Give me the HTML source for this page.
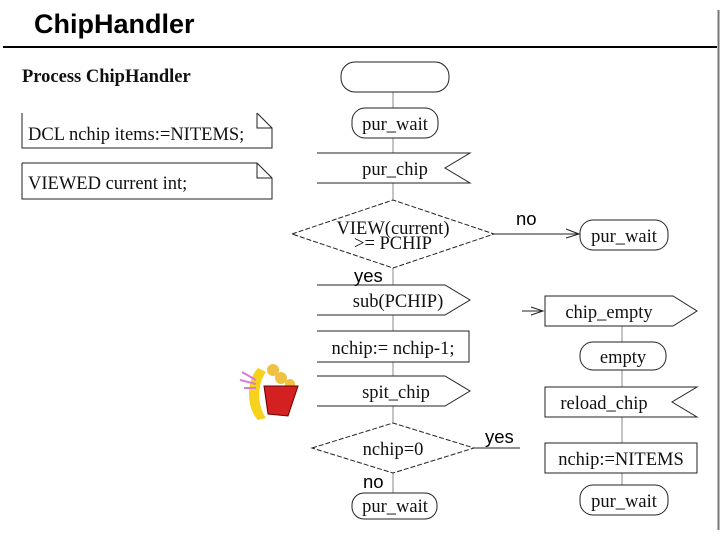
<!DOCTYPE html>
<html><head><meta charset="utf-8"><style>
html,body{margin:0;padding:0;background:#fff;}
svg{display:block;}
.s{font-family:"Liberation Serif",serif;font-size:18.5px;fill:#111;}
.a{font-family:"Liberation Sans",sans-serif;fill:#000;}
</style></head><body>
<svg width="720" height="540" viewBox="0 0 720 540" xmlns="http://www.w3.org/2000/svg">
<g fill="none" stroke="#222" stroke-width="1">
<line x1="3" y1="47" x2="717" y2="47" stroke="#000" stroke-width="2"/>
<line x1="718.5" y1="10" x2="718.5" y2="530" stroke="#777" stroke-width="2"/>
<path d="M22 113 V148 H272 V128 L257 113"/>
<path d="M257 113 V128 H272"/>
<path d="M22 163 V199 H272 V178 L257 163 H22"/>
<path d="M257 163 V178 H272"/>
<line x1="393" y1="92" x2="393" y2="493" stroke="#888"/>
<rect x="341" y="62" width="108" height="30" rx="14" fill="#fff"/>
<rect x="352" y="108" width="86" height="30" rx="13" fill="#fff"/>
<path d="M317 153 H470 L445 168 L470 183 H317" fill="#fff"/>
<polygon points="292,234 393,200 494,234 393,268" fill="#fff" stroke-dasharray="5,2"/>
<line x1="494" y1="234" x2="578" y2="234"/>
<path d="M566 229 L579 234 L566 238"/>
<rect x="580" y="220" width="88" height="30" rx="13" fill="#fff"/>
<path d="M317 285 H445 L470 300 L445 315 H317" fill="#fff"/>
<path d="M317 331 H469 V362 H317" fill="#fff"/>
<path d="M317 376 H445 L470 391 L445 406 H317" fill="#fff"/>
<polygon points="312,448 393,423 474,448 393,473" fill="#fff" stroke-dasharray="5,2"/>
<line x1="474" y1="448" x2="520" y2="448"/>
<rect x="352" y="493" width="85" height="26" rx="12" fill="#fff"/>
<line x1="622" y1="326" x2="622" y2="485" stroke="#888"/>
<line x1="522" y1="311" x2="542" y2="311"/>
<path d="M531 307 L543 311 L531 315"/>
<path d="M545 296 H673 L697 311 L673 326 H545 Z" fill="#fff"/>
<rect x="580" y="342" width="86" height="28" rx="13" fill="#fff"/>
<path d="M697 387 H545 V417 H697 L672 402 Z" fill="#fff"/>
<rect x="545" y="443" width="152" height="30" fill="#fff"/>
<rect x="580" y="485" width="88" height="30" rx="13" fill="#fff"/>
</g>
<g>
<path d="M258 368 C246 380 246 408 258 420 L266 418 C256 404 258 382 266 372 Z" fill="#f6d21c"/>
<line x1="242" y1="372" x2="256" y2="380" stroke="#d97bd9" stroke-width="2"/>
<line x1="240" y1="380" x2="256" y2="384" stroke="#d97bd9" stroke-width="2"/>
<line x1="244" y1="388" x2="256" y2="388" stroke="#d97bd9" stroke-width="2"/>
<circle cx="273" cy="370" r="6" fill="#f0c040"/>
<circle cx="281" cy="378" r="6" fill="#f0c040"/>
<circle cx="290" cy="384" r="5" fill="#f0c040"/>
<path d="M264 386 L298 386 L288 416 L268 414 Z" fill="#d42020" stroke="#600" stroke-width="1"/>
</g>
<text x="34" y="33" class="a" font-size="27" font-weight="bold">ChipHandler</text>
<text x="22" y="82" class="s" font-weight="bold" font-size="18.5">Process ChipHandler</text>
<text x="28" y="140" class="s" font-size="19.5">DCL nchip items:=NITEMS;</text>
<text x="28" y="189" class="s" font-size="19.5">VIEWED current int;</text>
<text x="395" y="130" class="s" text-anchor="middle">pur_wait</text>
<text x="395" y="175" class="s" text-anchor="middle">pur_chip</text>
<text x="393" y="234" class="s" text-anchor="middle">VIEW(current)</text>
<text x="393" y="249" class="s" text-anchor="middle">&gt;= PCHIP</text>
<text x="516" y="225" class="a" font-size="18.5">no</text>
<text x="624" y="242" class="s" text-anchor="middle">pur_wait</text>
<text x="354" y="282" class="a" font-size="18.5">yes</text>
<text x="398" y="307" class="s" text-anchor="middle">sub(PCHIP)</text>
<text x="393" y="354" class="s" text-anchor="middle">nchip:= nchip-1;</text>
<text x="396" y="398" class="s" text-anchor="middle">spit_chip</text>
<text x="393" y="455" class="s" text-anchor="middle">nchip=0</text>
<text x="485" y="443" class="a" font-size="18.5">yes</text>
<text x="363" y="488" class="a" font-size="18.5">no</text>
<text x="395" y="512" class="s" text-anchor="middle">pur_wait</text>
<text x="609" y="318" class="s" text-anchor="middle">chip_empty</text>
<text x="623" y="363" class="s" text-anchor="middle">empty</text>
<text x="604" y="409" class="s" text-anchor="middle">reload_chip</text>
<text x="621" y="465" class="s" text-anchor="middle">nchip:=NITEMS</text>
<text x="624" y="507" class="s" text-anchor="middle">pur_wait</text>
</svg>
</body></html>
